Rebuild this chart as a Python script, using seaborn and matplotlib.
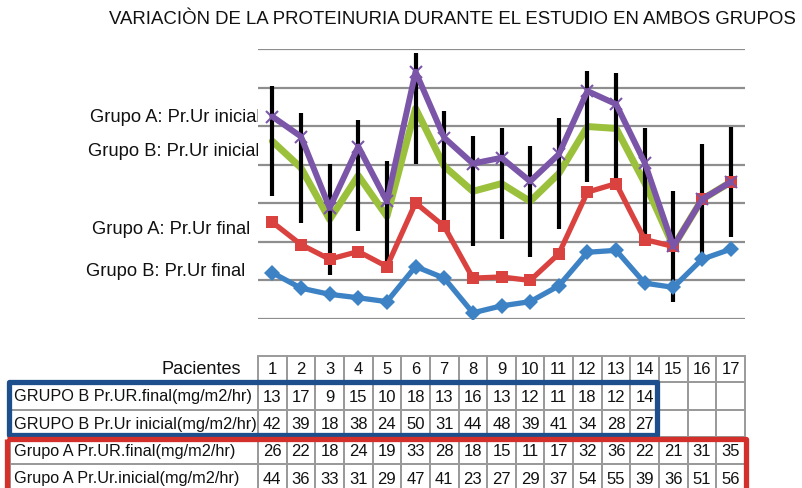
import matplotlib
matplotlib.use("Agg")
import matplotlib.pyplot as plt
import seaborn as sns
import pandas as pd
import numpy as np
from matplotlib.patches import Rectangle

# ---------------- data ----------------
pacientes = list(range(1, 18))

# values drawn in the chart
linea_b_final = [12.0, 8.0, 6.4, 5.5, 4.5, 13.6, 10.6, 1.6, 3.4, 4.5, 8.6, 17.3, 17.8, 9.3, 8.2, 15.5, 18.1]
linea_a_final = [25.1, 19.3, 15.5, 17.5, 13.6, 30.1, 24.0, 10.6, 10.9, 10.0, 16.9, 32.9, 35.1, 20.6, 18.8, 31.0, 35.5]
linea_b_inicial = [46.1, 39.2, 25.8, 37.2, 26.6, 54.6, 39.6, 33.1, 35.1, 30.5, 37.7, 49.9, 49.4, 35.3, 18.8, 31.0, 35.5]
linea_a_inicial = [52.5, 47.3, 28.8, 44.7, 30.5, 64.1, 47.0, 40.3, 41.8, 35.7, 42.7, 59.1, 55.7, 40.5, 18.8, 31.0, 35.5]
error_b_inicial = [14.3] * 17

# table values
tabla_b_final = [13, 17, 9, 15, 10, 18, 13, 16, 13, 12, 11, 18, 12, 14]
tabla_b_inicial = [42, 39, 18, 38, 24, 50, 31, 44, 48, 39, 41, 34, 28, 27]
tabla_a_final = [26, 22, 18, 24, 19, 33, 28, 18, 15, 11, 17, 32, 36, 22, 21, 31, 35]
tabla_a_inicial = [44, 36, 33, 31, 29, 47, 41, 23, 27, 29, 37, 54, 55, 39, 36, 51, 56]

filas = ["GRUPO B Pr.UR.final(mg/m2/hr)", "GRUPO B Pr.Ur inicial(mg/m2/hr)",
         "Grupo A Pr.UR.final(mg/m2/hr)", "Grupo A Pr.Ur.inicial(mg/m2/hr)"]
etiquetas = ["Grupo A: Pr.Ur inicial", "Grupo B: Pr.Ur inicial",
             "Grupo A: Pr.Ur final", "Grupo B: Pr.Ur final"]
titulo = "VARIACIÒN DE LA PROTEINURIA DURANTE EL ESTUDIO EN AMBOS GRUPOS"

# ---------------- style ----------------
sns.set_theme(style="white")
plt.rcParams['font.family'] = ['Liberation Sans', 'DejaVu Sans']

W, H = 802, 489
fig = plt.figure(figsize=(W / 100, H / 100), dpi=100)

# overlay axes in pixel coordinates (texts + table)
ov = fig.add_axes([0, 0, 1, 1])
ov.set_xlim(0, W)
ov.set_ylim(H, 0)
ov.axis('off')

# main chart axes
x0, x1, ytop, ybot = 258, 745, 50, 320
ax = fig.add_axes([x0 / W, 1 - ybot / H, (x1 - x0) / W, (ybot - ytop) / H])
ax.set_xlim(0.5, 17.5)
ax.set_ylim(0, 70)
for s in ax.spines.values():
    s.set_visible(False)
ax.set_xticks([])
ax.set_yticks(np.arange(0, 71, 10))
ax.set_yticklabels([])
ax.tick_params(left=False)
ax.yaxis.grid(True, color='#8e8e8e', lw=1.6)
ax.xaxis.grid(False)

blue, red, green, purple = '#3d82c4', '#d9423f', '#9bc03b', '#7b56a8'

df_bf = pd.DataFrame({"p": pacientes, "v": linea_b_final})
df_af = pd.DataFrame({"p": pacientes, "v": linea_a_final})
df_bi = pd.DataFrame({"p": pacientes, "v": linea_b_inicial})
df_ai = pd.DataFrame({"p": pacientes, "v": linea_a_inicial})

sns.lineplot(data=df_bi, x="p", y="v", ax=ax, color=green, lw=5, zorder=2)
ax.errorbar(pacientes, linea_b_inicial, yerr=error_b_inicial, fmt='none',
            ecolor='black', elinewidth=3, capsize=0, zorder=2.5)
sns.lineplot(data=df_bf, x="p", y="v", ax=ax, color=blue, lw=3.8, marker='D',
             markersize=8, markeredgewidth=0, zorder=3)
sns.lineplot(data=df_af, x="p", y="v", ax=ax, color=red, lw=3.8, marker='s',
             markersize=9, markeredgewidth=0, zorder=3)
sns.lineplot(data=df_ai, x="p", y="v", ax=ax, color=purple, lw=4.3, marker='x',
             markersize=8, markeredgewidth=1.5, markeredgecolor=purple, zorder=4)
ax.set_xlabel("")
ax.set_ylabel("")

# ---------------- texts ----------------
ov.text(452, 20, titulo, ha='center', va='center', fontsize=13.4, color='#111111')
lab_pos = [(260, 117), (260, 152), (250, 230), (245, 271)]
for (lx, ly), t in zip(lab_pos, etiquetas):
    ov.text(lx, ly, t, ha='right', va='center', fontsize=13.2, color='#111111')

# ---------------- table ----------------
cw = (x1 - x0) / 17.0
row_edges = [357, 383, 411, 438, 465, 493]
grid_c = '#9a9a9a'
fs = 12.0
fs_lab = 11.7
ov.text(241, 370, "Pacientes", ha='right', va='center', fontsize=13.1, color='#111111')
for i, p in enumerate(pacientes):
    ov.add_patch(Rectangle((x0 + i * cw, row_edges[0]), cw, row_edges[1] - row_edges[0],
                           fill=False, ec=grid_c, lw=1.4))
    ov.text(x0 + (i + 0.5) * cw, 370, str(p), ha='center', va='center', fontsize=fs, color='#111111')

tablas = [tabla_b_final, tabla_b_inicial, tabla_a_final, tabla_a_inicial]
for r, (nombre, vals) in enumerate(zip(filas, tablas)):
    yt, yb = row_edges[r + 1], row_edges[r + 2]
    yc = (yt + yb) / 2
    ov.add_patch(Rectangle((10, yt), x0 - 10, yb - yt, fill=False, ec=grid_c, lw=1.4))
    ov.text(14, yc, nombre, ha='left', va='center', fontsize=fs_lab, color='#111111')
    for i in range(17):
        ov.add_patch(Rectangle((x0 + i * cw, yt), cw, yb - yt, fill=False, ec=grid_c, lw=1.4))
        if i < len(vals):
            ov.text(x0 + (i + 0.5) * cw, yc, str(vals[i]), ha='center', va='center',
                    fontsize=fs, color='#111111')

# coloured frames
ov.add_patch(Rectangle((9, 383), 648, 53, fill=False, ec='#1d4f8c', lw=3.8, joinstyle='round'))
ov.add_patch(Rectangle((7, 440), 739, 60, fill=False, ec='#d3302b', lw=3.8, joinstyle='round'))

fig.savefig("out.png", dpi=100)
